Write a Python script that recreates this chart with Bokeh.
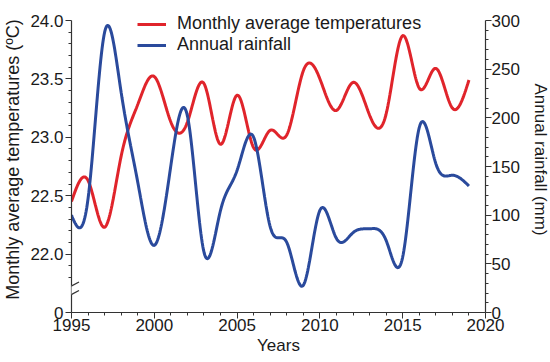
import numpy as np
from bokeh.plotting import figure
from bokeh.models import (Range1d, LinearAxis, FixedTicker, Arrow, Legend, LegendItem)
from bokeh.embed import file_html
from bokeh.resources import INLINE

# ---- data ----
years = list(range(1995, 2020))
temperature = [22.45, 22.63, 22.23, 22.84, 23.28, 23.52, 23.13, 23.13, 23.46, 22.94,
               23.36, 22.91, 23.06, 23.02, 23.57, 23.50, 23.23, 23.47, 23.19, 23.20,
               23.87, 23.42, 23.59, 23.25, 23.49]
rainfall = [100, 117, 288, 226, 134, 69, 151, 202, 62, 105,
            146, 180, 88, 72, 28, 105, 76, 82, 86, 74,
            57, 190, 153, 141, 130]
series_names = ["Monthly average temperatures", "Annual rainfall"]
x_ticks = [1995, 2000, 2005, 2010, 2015, 2020]
temp_ticks = [21.5, 22.0, 22.5, 23.0, 23.5, 24.0]
temp_labels = {21.5: "0", 22.0: "22.0", 22.5: "22.5", 23.0: "23.0", 23.5: "23.5", 24.0: "24.0"}
rain_ticks = [0, 50, 100, 150, 200, 250, 300]

RED = "#e0242b"
BLUE = "#2a4a9c"
AX = "#333333"
TXT = "#1a1a1a"
FONT = "Liberation Sans"

# axis extents; the frame is made a little taller than the axes so the legend may sit above 24.0
X0, X1 = 1995, 2020
T0, T1 = 21.5, 24.0
R0, R1 = 0, 300
FW, FH_AXIS, FH_EXTRA = 414, 292, 14
FH = FH_AXIS + FH_EXTRA
T_TOP = T1 + FH_EXTRA * (T1 - T0) / FH_AXIS
R_TOP = R1 + FH_EXTRA * (R1 - R0) / FH_AXIS


def smooth(x, y, n=600):
    """Natural cubic spline used only to draw the line smoothly through the points."""
    x = np.asarray(x, float)
    y = np.asarray(y, float)
    k = len(x)
    h = np.diff(x)
    A = np.zeros((k, k))
    b = np.zeros(k)
    A[0, 0] = A[-1, -1] = 1
    for i in range(1, k - 1):
        A[i, i - 1] = h[i - 1]
        A[i, i] = 2 * (h[i - 1] + h[i])
        A[i, i + 1] = h[i]
        b[i] = 6 * ((y[i + 1] - y[i]) / h[i] - (y[i] - y[i - 1]) / h[i - 1])
    M = np.linalg.solve(A, b)
    xs = np.linspace(x[0], x[-1], n)
    idx = np.clip(np.searchsorted(x, xs) - 1, 0, k - 2)
    x0, x1 = x[idx], x[idx + 1]
    hh = x1 - x0
    t1 = x1 - xs
    t0 = xs - x0
    ys = (M[idx] * t1 ** 3 / (6 * hh) + M[idx + 1] * t0 ** 3 / (6 * hh)
          + (y[idx] / hh - M[idx] * hh / 6) * t1 + (y[idx + 1] / hh - M[idx + 1] * hh / 6) * t0)
    return xs, ys


def fx(px):  # pixel offset from axis left -> x data
    return X0 + px * (X1 - X0) / FW


def fy(px):  # pixel offset from the 24.0 line downward -> left-axis data
    return T1 - px * (T1 - T0) / FH_AXIS


tx, ty = smooth(years, temperature)
rx, ry = smooth(years, rainfall)

p = figure(frame_width=FW, frame_height=FH, output_backend="svg", toolbar_location=None,
           x_range=Range1d(X0, X1), y_range=Range1d(T0, T_TOP),
           min_border_left=70, min_border_right=62, min_border_top=20 - FH_EXTRA,
           min_border_bottom=46)
p.outline_line_color = None
p.xgrid.visible = False
p.ygrid.visible = False
p.background_fill_color = "white"
p.border_fill_color = "white"

p.extra_y_ranges = {"rain": Range1d(R0, R_TOP)}

r_temp = p.line(tx, ty, line_color=RED, line_width=3)
r_rain = p.line(rx, ry, line_color=BLUE, line_width=3, y_range_name="rain")


def style_axis(ax):
    ax.axis_line_color = AX
    ax.axis_line_width = 1.2
    ax.major_tick_line_color = AX
    ax.minor_tick_line_color = AX
    ax.major_tick_in = 0
    ax.minor_tick_in = 0
    ax.major_tick_out = 6
    ax.minor_tick_out = 3
    ax.major_label_text_font = FONT
    ax.major_label_text_font_size = "17px"
    ax.major_label_text_color = TXT
    ax.axis_label_text_font = FONT
    ax.axis_label_text_font_style = "normal"
    ax.axis_label_text_color = TXT


# x axis
xa = p.xaxis[0]
style_axis(xa)
xa.ticker = FixedTicker(ticks=x_ticks, minor_ticks=[y for y in range(1995, 2021) if y not in x_ticks])
xa.axis_label = "Years"
xa.axis_label_text_font_size = "17px"
xa.major_label_standoff = 0
xa.axis_label_standoff = 2

# left axis
ya = p.yaxis[0]
style_axis(ya)
ya.bounds = (T0, T1)
minor_left = [round(v, 1) for v in np.arange(21.8, 24.01, 0.1) if round(v, 1) not in temp_ticks]
ya.ticker = FixedTicker(ticks=temp_ticks, minor_ticks=minor_left)
ya.major_label_overrides = temp_labels
ya.axis_label = "Monthly average temperatures (\u00baC)"
ya.axis_label_text_font_size = "18px"
ya.major_label_standoff = 2
ya.axis_label_standoff = 4

# right axis
ra = LinearAxis(y_range_name="rain")
style_axis(ra)
ra.bounds = (R0, R1)
ra.ticker = FixedTicker(ticks=rain_ticks, minor_ticks=[v for v in range(0, 301, 10) if v not in rain_ticks])
ra.axis_label = "Annual rainfall (mm)"
ra.axis_label_text_font_size = "17px"
ra.major_label_standoff = 0
ra.axis_label_standoff = 8
p.add_layout(ra, "right")

# axis break marks on the left axis
p.add_layout(Arrow(end=None, x_start=X0, y_start=fy(274), x_end=X0, y_end=fy(265),
                   line_color="white", line_width=4))
for py in (265.5, 274):
    p.add_layout(Arrow(end=None, x_start=fx(-7.5), y_start=fy(py + 4),
                       x_end=fx(7.5), y_end=fy(py - 4),
                       line_color=AX, line_width=1.3))

legend = Legend(items=[LegendItem(label=series_names[0], renderers=[r_temp]),
                       LegendItem(label=series_names[1], renderers=[r_rain])],
                location=(66, 257))
legend.background_fill_alpha = 0
legend.border_line_color = None
legend.label_text_font = FONT
legend.label_text_font_size = "18px"
legend.label_text_color = TXT
legend.glyph_width = 29
legend.glyph_height = 20
legend.label_height = 20
legend.spacing = 0
legend.padding = 0
legend.margin = 0
legend.label_standoff = 11
p.add_layout(legend)

open("out.html", "w").write(file_html(p, INLINE))
